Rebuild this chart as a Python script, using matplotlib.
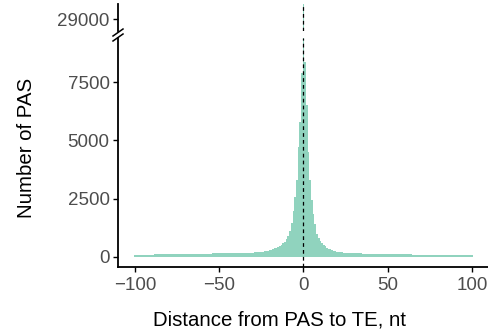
import numpy as np
import matplotlib
matplotlib.use("Agg")
import matplotlib.pyplot as plt
from matplotlib.lines import Line2D

plt.rcParams['font.family'] = ['Liberation Sans', 'DejaVu Sans']

# Histogram of distance from PAS to TE (bin width 1 nt, -100..100)
left_tail = [78, 82, 80, 84, 83, 86, 85, 88, 90, 89,
             92, 91, 94, 96, 95, 98, 97, 100, 102, 101,
             104, 103, 106, 108, 107, 110, 112, 111, 114, 116,
             115, 118, 120, 119, 122, 124, 123, 126, 128, 127,
             130, 132, 131, 134, 136, 135, 138, 140, 139, 142,
             144, 143, 146, 148, 147, 150, 152, 151, 154, 156,
             155, 158, 160, 159, 162, 164, 166, 168, 171, 174]          # -100..-31
left_peak = [178, 182, 187, 193, 200, 210, 220, 233, 247, 262,
             280, 300, 325, 355, 385, 420, 460, 510, 570, 650,
             760, 900, 1100, 1450, 1950, 2550, 3300, 4700, 5800, 7900]  # -30..-1
center = [29700]                                                         # 0
right_peak = [8380, 6530, 4500, 3300, 2450, 1850, 1400, 980, 800, 670,
              580, 505, 445, 395, 350, 315, 285, 260, 240, 222,
              207, 195, 184, 175, 168]                                   # 1..25
right_tail = [160, 156, 152, 150, 147, 145, 142, 140, 138, 136,
              134, 132, 131, 129, 127, 126, 124, 122, 121, 119,
              118, 116, 115, 113, 112, 110, 109, 108, 106, 105,
              104, 102, 101, 100, 99, 98, 96, 95, 94, 93,
              92, 91, 90, 89, 88, 87, 86, 85, 84, 83,
              82, 81, 80, 80, 79, 78, 77, 77, 76, 75,
              75, 74, 73, 73, 72, 72, 71, 70, 70, 69,
              69, 68, 68, 67, 67]                                         # 26..100

counts = np.array(left_tail + left_peak + center + right_peak + right_tail)
distances = np.arange(-100, 101)
edges = np.append(distances - 0.5, distances[-1] + 0.5)

xticks = [-100, -50, 0, 50, 100]
yticks_low = [0, 2500, 5000, 7500]
yticks_high = [29000]

W, H = 489, 334
fig = plt.figure(figsize=(W / 100, H / 100), dpi=100)

def rect(l, t, r, b):
    return [l / W, 1 - b / H, (r - l) / W, (b - t) / H]

ax_lo = fig.add_axes(rect(118, 38, 489, 267))
ax_hi = fig.add_axes(rect(118, 4, 489, 31))

bar_color = '#66C2A5'
tick_color = '#4D4D4D'
for ax in (ax_lo, ax_hi):
    ax.stairs(counts, edges, fill=True, color=bar_color, alpha=0.72, linewidth=0)
    ax.axvline(0, color='black', linestyle=(0, (3, 2.5)), linewidth=0.9)
    ax.set_xlim(-110, 110)
    for s in ('top', 'right'):
        ax.spines[s].set_visible(False)
    ax.spines['left'].set_linewidth(1.3)
    ax.spines['bottom'].set_linewidth(1.3)
    ax.tick_params(axis='both', length=3.5, width=1.0, color='black',
                   labelcolor=tick_color, labelsize=13.5, pad=2.5)

ax_lo.set_ylim(-444, 9410)
ax_lo.set_yticks(yticks_low)
ax_lo.set_xticks(xticks)
ax_lo.set_xticklabels(['\u2212100', '\u221250', '0', '50', '100'])
ax_lo.tick_params(axis='x', pad=3.5)

ax_hi.set_ylim(28484, 29645)
ax_hi.set_yticks(yticks_high)
ax_hi.spines['bottom'].set_visible(False)
ax_hi.set_xticks([])

# break marks on the y axis
for y0 in (36, 41):
    fig.add_artist(Line2D([113 / W, 123 / W], [1 - y0 / H, 1 - (y0 - 7) / H],
                          color='black', linewidth=1.1))

fig.text(27 / W, 1 - 148 / H, 'Number of PAS', rotation=90, ha='center', va='center',
         fontsize=14.7, color='black')
fig.text(280 / W, 1 - 320 / H, 'Distance from PAS to TE, nt', ha='center', va='center',
         fontsize=14.7, color='black')

fig.savefig('out.png', dpi=100)
